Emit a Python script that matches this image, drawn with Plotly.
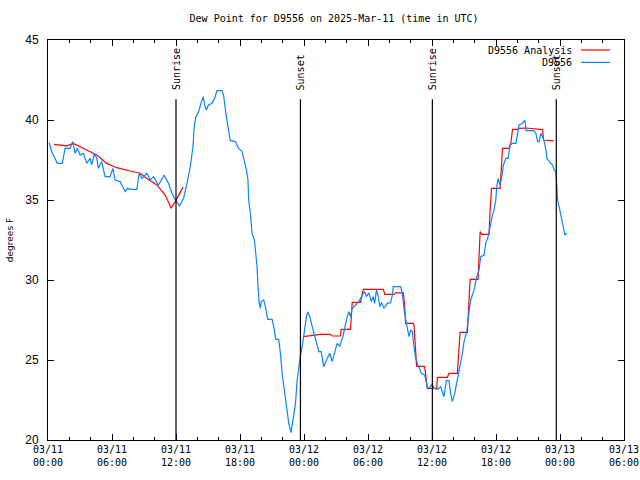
import pandas as pd
import plotly.graph_objects as go

# ---------------- data (hours since 2025-03-11 00:00 UTC) ----------------
obs_hours = [0.12, 0.35, 0.66, 0.87, 1.34, 1.60, 2.07, 2.32, 2.54, 2.75, 3.01, 3.32, 3.63, 3.94,
             4.10, 4.35, 4.57, 4.72, 5.04, 5.35, 5.82, 6.08, 6.29, 6.76, 7.23, 7.45, 7.70, 8.33,
             8.55, 8.80, 9.27, 9.58, 9.89, 10.36, 10.89, 11.30, 11.62, 11.93, 12.33, 12.71, 13.03,
             13.34, 13.59, 13.71, 13.87, 14.12, 14.34, 14.56, 14.68, 14.84, 15.05, 15.37, 15.62,
             15.84, 16.31, 16.46, 16.72, 16.93, 17.09, 17.56, 17.87, 18.19, 18.41, 18.60, 18.75,
             18.81, 18.97, 19.13, 19.35, 19.51, 19.60, 19.69, 19.79, 19.91, 19.98, 20.22, 20.38,
             20.60, 21.01, 21.16, 21.35, 21.63, 21.79, 21.95, 22.19, 22.42, 22.57, 22.79, 22.98,
             23.20, 23.36, 23.51, 23.67, 23.83, 24.04, 24.23, 24.35, 24.54, 24.77, 25.08, 25.39,
             25.61, 25.76, 25.85, 26.17, 26.42, 26.64, 26.89, 27.11, 27.36, 27.68, 28.05, 28.20,
             28.36, 28.52, 28.83, 29.14, 29.46, 29.68, 29.86, 30.08, 30.31, 30.49, 30.62, 30.80,
             30.95, 31.11, 31.27, 31.49, 31.81, 32.12, 32.28, 32.37, 33.06, 33.22, 33.43, 33.62,
             33.84, 34.00, 34.16, 34.31, 34.47, 34.63, 34.78, 35.00, 35.31, 35.50, 35.62, 36.03,
             36.18, 36.50, 36.81, 36.97, 37.12, 37.35, 37.59, 37.75, 37.91, 38.13, 38.38, 38.63,
             38.85, 39.00, 39.26, 39.47, 39.63, 39.94, 40.20, 40.41, 40.57, 40.88, 41.04, 41.26,
             41.44, 41.67, 41.82, 41.98, 42.07, 42.20, 42.36, 42.52, 42.70, 42.92, 43.14, 43.32,
             43.55, 43.86, 44.02, 44.17, 44.49, 44.70, 44.83, 45.52, 45.74, 45.90, 46.05, 46.21,
             46.37, 46.52, 46.68, 46.77, 46.99, 47.30, 47.46, 47.61, 47.71, 47.77, 47.92, 48.08,
             48.24, 48.39, 48.46, 48.62]
obs_dewpt = [38.58, 38.02, 37.60, 37.29, 37.29, 38.23, 38.23, 38.65, 37.92, 38.23, 37.81, 37.92, 37.29, 37.60,
             37.19, 37.92, 37.60, 36.98, 37.40, 36.46, 36.46, 36.98, 36.25, 36.15, 35.52, 35.73, 35.67, 35.67,
             36.67, 36.35, 36.67, 36.25, 36.46, 35.94, 36.56, 36.04, 35.42, 35.00, 34.63, 35.10, 36.04,
             37.08, 38.33, 39.58, 40.21, 40.52, 41.04, 41.46, 40.94, 40.63, 40.94, 41.04, 41.35,
             41.83, 41.83, 41.56, 40.21, 39.38, 38.71, 38.65, 38.23, 38.02, 37.50, 36.88, 36.25,
             35.00, 34.17, 32.92, 32.50, 31.46, 30.83, 29.58, 28.65, 28.23, 28.65, 28.75, 28.33,
             27.54, 27.54, 27.08, 26.29, 26.29, 25.42, 24.17, 22.92, 22.08, 21.04, 20.46, 21.25,
             22.29, 23.75, 24.58, 25.31, 25.83, 26.88, 27.71, 28.00, 27.71, 27.08, 26.25, 25.52,
             25.52, 25.00, 24.58, 25.10, 25.42, 24.90, 25.52, 26.04, 25.87, 26.56, 27.71, 28.02,
             27.71, 28.23, 28.44, 28.65, 29.06, 29.27, 28.96, 29.20, 28.65, 28.96, 28.54, 29.38,
             29.00, 28.33, 28.60, 28.23, 28.54, 28.58, 29.06, 29.58, 29.58, 29.17, 27.92, 27.29,
             26.46, 26.88, 26.77, 25.83, 25.10, 24.79, 24.58, 24.17, 24.06, 23.44, 23.17, 23.50,
             23.23, 23.17, 23.33, 23.02, 22.71, 23.71, 23.71, 22.92, 22.40, 22.92, 23.75, 24.58,
             25.42, 26.15, 26.77, 28.02, 28.75, 29.38, 30.21, 30.63, 31.46, 31.56, 32.29, 32.71,
             33.33, 34.06, 34.38, 35.00, 35.83, 36.35, 35.94, 36.35, 37.19, 37.60, 37.60, 38.44,
             38.54, 38.54, 39.17, 39.69, 39.79, 40.00, 39.33, 39.33, 39.17, 38.65, 38.65, 39.17,
             38.96, 38.65, 38.13, 37.60, 37.40, 37.19, 36.88, 36.77, 35.83, 35.00, 34.58, 34.06,
             33.54, 32.92, 32.81, 32.92]

ana1_hours = [0.56, 1.29, 1.76, 2.38, 3.32, 4.57, 5.51, 6.45, 7.70, 8.64, 9.27, 10.21, 10.99,
              11.55, 12.09, 12.65]
ana1_dewpt = [38.48, 38.44, 38.38, 38.54, 38.23, 37.81, 37.29, 37.02, 36.81, 36.67, 36.35, 35.94,
              35.31, 34.48, 35.10, 35.79]

ana2_hours = [23.92, 25.54, 26.48, 26.64, 27.42, 27.49, 28.36, 28.52, 29.30, 29.56, 31.43, 31.58,
              32.43, 32.59, 33.31, 33.43, 33.53, 34.25, 34.31, 34.56, 35.31, 35.41, 35.56, 36.44,
              36.51, 37.44, 37.59, 38.38, 38.63, 39.32, 39.47, 39.57, 40.32, 40.41, 40.51, 40.67,
              41.35, 41.44, 41.58, 42.39, 42.55, 42.61, 43.23, 43.39, 43.55, 44.02, 44.17, 44.80,
              46.37, 46.46, 47.40]
ana2_dewpt = [26.46, 26.60, 26.60, 26.50, 26.50, 26.92, 26.92, 28.60, 28.60, 29.42, 29.42, 29.10,
              29.10, 29.20, 29.20, 28.44, 27.29, 27.29, 27.19, 24.60, 24.60, 23.90, 23.23, 23.23,
              23.92, 23.92, 24.17, 24.17, 26.73, 26.73, 29.17, 30.04, 30.04, 31.46, 33.02, 32.85,
              32.85, 34.27, 35.73, 35.73, 37.60, 38.23, 38.23, 38.54, 39.42, 39.42, 39.48, 39.50,
              39.40, 38.75, 38.69]

sun_times = ["2025-03-11 12:00", "2025-03-11 23:40", "2025-03-12 12:02", "2025-03-12 23:39"]
sun_labels = ["Sunrise", "Sunset", "Sunrise", "Sunset"]

title_text = "Dew Point for D9556 on 2025-Mar-11 (time in UTC)"
ylabel = "degrees F"
legend_names = ["D9556 Analysis", "D9556"]
y_range = [20, 45]
x_range = ["2025-03-11 00:00", "2025-03-13 06:00"]

# ---------------- build ----------------
base = pd.Timestamp("2025-03-11 00:00")
def to_time(hrs):
    return base + pd.to_timedelta(hrs, unit="h")

RED = "#ff0000"
BLUE = "#0a84ff"
mono = "DejaVu Sans Mono"

fig = go.Figure()
fig.add_trace(go.Scatter(x=to_time(ana1_hours), y=ana1_dewpt, mode="lines",
                         line=dict(color=RED, width=1.2), name=legend_names[0], showlegend=False))
fig.add_trace(go.Scatter(x=to_time(ana2_hours), y=ana2_dewpt, mode="lines",
                         line=dict(color=RED, width=1.2), name=legend_names[0], showlegend=False))
fig.add_trace(go.Scatter(x=to_time(obs_hours), y=obs_dewpt, mode="lines",
                         line=dict(color=BLUE, width=1.2), name=legend_names[1], showlegend=False))

for t, lab in zip(sun_times, sun_labels):
    fig.add_shape(type="line", xref="x", yref="y", x0=t, x1=t, y0=y_range[0], y1=41.3,
                  line=dict(color="black", width=1.2))
    fig.add_annotation(x=t, y=41.75, xref="x", yref="y", text=lab, textangle=-90,
                       showarrow=False, xanchor="center", yanchor="bottom",
                       font=dict(family=mono, size=10, color="black"))

# manual legend (text left of sample line, as in the reference)
leg_y = [0.975, 0.944]
leg_col = [RED, BLUE]
for name, yy, c in zip(legend_names, leg_y, leg_col):
    fig.add_annotation(x=0.9135, y=yy, xref="paper", yref="paper", text=name, showarrow=False,
                       xanchor="right", yanchor="middle", font=dict(family=mono, size=10, color="black"))
    fig.add_shape(type="line", xref="paper", yref="paper", x0=0.9253, x1=0.9757, y0=yy, y1=yy,
                  line=dict(color=c, width=1.2))

fig.update_layout(
    width=640, height=480, autosize=False,
    margin=dict(l=48, r=16, t=40, b=40),
    paper_bgcolor="white", plot_bgcolor="white",
    title=dict(text=title_text, x=0.522, xanchor="center", y=0.961, yanchor="middle",
               font=dict(family=mono, size=10, color="black")),
    showlegend=False,
)
fig.update_xaxes(
    type="date", range=x_range, showgrid=False, zeroline=False, automargin=False,
    showline=True, linecolor="black", linewidth=1, mirror="allticks",
    ticks="inside", ticklen=6, tickcolor="black", dtick=6 * 3600 * 1000,
    tick0="2025-03-11 00:00", tickformat="%m/%d<br>%H:%M",
    tickfont=dict(family=mono, size=10, color="black"),
    minor=dict(dtick=2 * 3600 * 1000, ticks="inside", ticklen=3, tickcolor="black", showgrid=False),
)
fig.update_yaxes(
    range=y_range, showgrid=False, zeroline=False, automargin=False,
    showline=True, linecolor="black", linewidth=1, mirror="allticks",
    ticks="inside", ticklen=6, tickcolor="black", dtick=5, tick0=20,
    tickfont=dict(family="Liberation Sans", size=12, color="black"),
    ticklabelstandoff=6,
    title=dict(text=ylabel, standoff=10, font=dict(family="DejaVu Sans", size=9, color="black")),
)

# remove the browser's default 8px page margin so the 640x480 figure fills the window exactly
fig.write_html("out.html", config={"displayModeBar": False},
               post_script="document.body.style.margin='0';document.body.style.overflow='hidden';")
